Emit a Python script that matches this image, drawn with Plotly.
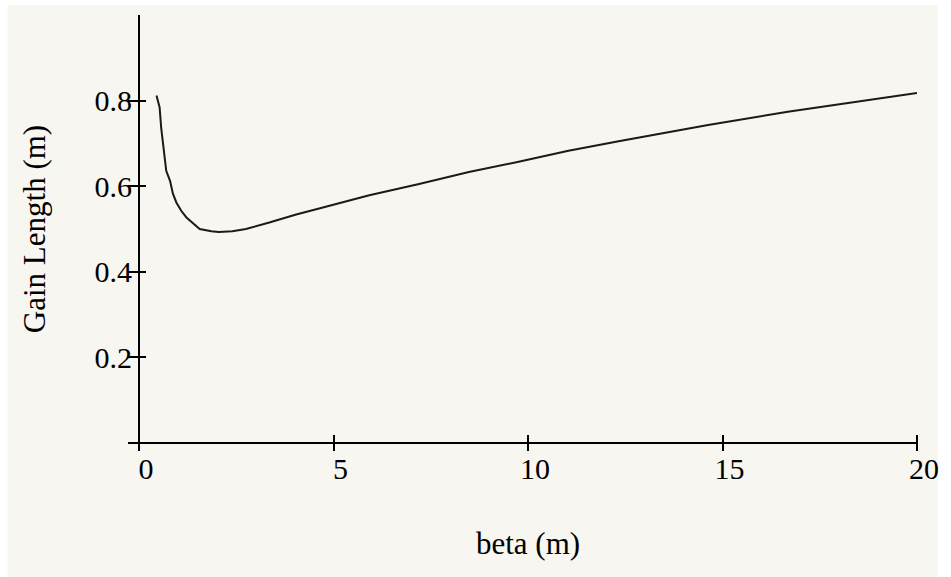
import plotly.graph_objects as go

# Gain length versus beta function
beta_m = [0.45, 0.53, 0.57, 0.63, 0.70, 0.80, 0.87, 0.96, 1.09, 1.22, 1.38, 1.56,
          1.86, 2.05, 2.40, 2.75, 3.35, 4.04, 4.63, 5.92, 7.20, 8.48, 9.76,
          11.04, 12.33, 13.50, 14.63, 16.68, 18.48, 20.00]
gain_length_m = [0.812, 0.784, 0.737, 0.683, 0.636, 0.612, 0.583, 0.562, 0.542, 0.527,
                 0.515, 0.500, 0.495, 0.493, 0.495, 0.500, 0.515, 0.534, 0.548, 0.579,
                 0.605, 0.633, 0.657, 0.683, 0.705, 0.725, 0.743, 0.774, 0.798, 0.818]

x_ticks = [0, 5, 10, 15, 20]
y_ticks = [0, 0.2, 0.4, 0.6, 0.8]
y_tick_text = ["", "0.2", "0.4", "0.6", "0.8"]

BG = "#F8F6F0"
FONT = "Liberation Serif"
X_RANGE = [0, 20]
Y_RANGE = [0, 1.0]
W, H = 951, 577
M = dict(l=139, r=30, t=15, b=134)
plot_w = W - M["l"] - M["r"]
plot_h = H - M["t"] - M["b"]

fig = go.Figure()
# The curve; its transparent fill to y=0 keeps the horizontal zero line (x axis line)
fig.add_trace(go.Scatter(
    x=beta_m, y=gain_length_m, mode="lines",
    line=dict(color="#1a1a1a", width=2),
    fill="tozeroy", fillcolor="rgba(0,0,0,0)",
    showlegend=False, hoverinfo="skip",
))
# Transparent fill to x=0 keeps the vertical zero line (y axis line)
fig.add_trace(go.Scatter(
    x=beta_m, y=gain_length_m, mode="none",
    fill="tozerox", fillcolor="rgba(0,0,0,0)",
    showlegend=False, hoverinfo="skip",
))

# Axes sit a few pixels inside the plot so their outside ticks cross the zero lines
common = dict(showgrid=False, showline=False, zeroline=True,
              zerolinecolor="black", zerolinewidth=2,
              tickcolor="black", tickwidth=2, ticks="outside", anchor="free")

# White frame around the beige canvas (left, top and right edges)
frame = dict(type="rect", xref="paper", yref="paper", fillcolor="white",
             line=dict(width=0), layer="below")
left_edge = -M["l"] / plot_w
right_edge = 1 + M["r"] / plot_w
top_edge = 1 + M["t"] / plot_h
bottom_edge = -M["b"] / plot_h

fig.update_layout(
    width=W, height=H, margin=M,
    paper_bgcolor=BG, plot_bgcolor=BG,
    font=dict(family=FONT, size=30, color="black"),
    xaxis=dict(range=X_RANGE, tickvals=x_ticks, ticktext=[str(v) for v in x_ticks],
               position=9 / plot_h, ticklen=16,
               ticklabelshift=7, ticklabelstandoff=-8,
               title=dict(text="beta (m)", font=dict(size=31), standoff=48),
               **common),
    yaxis=dict(range=Y_RANGE, tickvals=y_ticks, ticktext=y_tick_text,
               position=7 / plot_w, ticklen=18,
               ticklabelstandoff=-10,
               title=dict(text="Gain Length (m)", font=dict(size=31), standoff=38),
               **common),
    shapes=[
        dict(frame, x0=left_edge - 0.05, x1=-132 / plot_w, y0=bottom_edge - 0.1, y1=top_edge + 0.1),
        dict(frame, x0=1 + 21 / plot_w, x1=right_edge + 0.05, y0=bottom_edge - 0.1, y1=top_edge + 0.1),
        dict(frame, x0=left_edge - 0.05, x1=right_edge + 0.05, y0=1 + 10 / plot_h, y1=top_edge + 0.1),
    ],
)

fig.write_html("out.html")
